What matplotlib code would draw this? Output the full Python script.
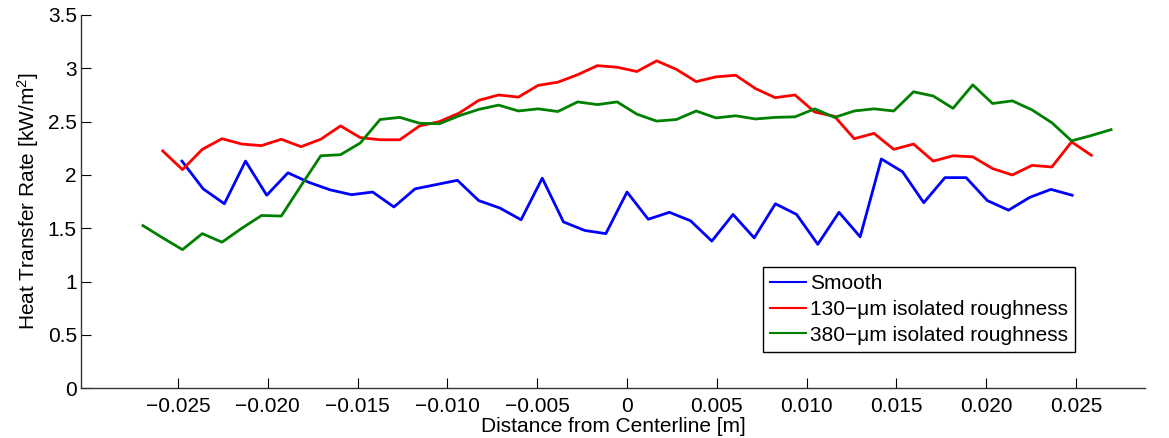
import numpy as np
import matplotlib
matplotlib.use('Agg')
import matplotlib.pyplot as plt

plt.rcParams['font.family'] = ['Liberation Sans', 'DejaVu Sans']
plt.rcParams['mathtext.default'] = 'regular'

# DATOS
x_smooth = [-0.02478, -0.02360, -0.02242, -0.02124, -0.02006, -0.01888, -0.01770,
            -0.01652, -0.01534, -0.01416, -0.01298, -0.01180, -0.01062, -0.00944,
            -0.00826, -0.00708, -0.00590, -0.00472, -0.00354, -0.00236, -0.00118,
            0.0, 0.00118, 0.00236, 0.00354, 0.00472, 0.00590, 0.00708, 0.00826,
            0.00944, 0.01062, 0.01180, 0.01298, 0.01416, 0.01534, 0.01652, 0.01770,
            0.01888, 0.02006, 0.02124, 0.02242, 0.02360, 0.02478]
smooth = [2.13, 1.87, 1.73, 2.13, 1.81, 2.02, 1.93, 1.86, 1.815, 1.84, 1.70,
          1.87, 1.91, 1.95, 1.76, 1.69, 1.58, 1.97, 1.56, 1.48, 1.45, 1.84,
          1.585, 1.65, 1.57, 1.38, 1.63, 1.41, 1.73, 1.63, 1.35, 1.65, 1.42,
          2.15, 2.03, 1.74, 1.975, 1.975, 1.76, 1.67, 1.79, 1.865, 1.81]

x_380 = [-0.02695, -0.02585, -0.02475, -0.02365, -0.02255, -0.02145, -0.02035,
         -0.01925, -0.01815, -0.01705, -0.01595, -0.01485, -0.01375, -0.01265,
         -0.01155, -0.01045, -0.00935, -0.00825, -0.00715, -0.00605, -0.00495,
         -0.00385, -0.00275, -0.00165, -0.00055, 0.00055, 0.00165, 0.00275,
         0.00385, 0.00495, 0.00605, 0.00715, 0.00825, 0.00935, 0.01045, 0.01155,
         0.01265, 0.01375, 0.01485, 0.01595, 0.01705, 0.01815, 0.01925, 0.02035,
         0.02145, 0.02255, 0.02365, 0.02475, 0.02585, 0.02695]
r380 = [1.525, 1.41, 1.30, 1.45, 1.37, 1.50, 1.62, 1.615, 1.90, 2.18,
        2.19, 2.30, 2.52, 2.54, 2.485, 2.48, 2.555, 2.615, 2.655, 2.60,
        2.62, 2.595, 2.685, 2.66, 2.685, 2.57, 2.505, 2.52, 2.60, 2.535,
        2.555, 2.525, 2.54, 2.545, 2.62, 2.54, 2.60, 2.62, 2.60, 2.78,
        2.74, 2.625, 2.845, 2.67, 2.695, 2.61, 2.49, 2.32, 2.37, 2.425]

x_130 = x_380[1:-1]
r130 = [2.225, 2.05, 2.24, 2.34, 2.29, 2.275, 2.335, 2.265, 2.335, 2.46,
        2.35, 2.33, 2.33, 2.46, 2.50, 2.58, 2.70, 2.75, 2.73, 2.84,
        2.87, 2.94, 3.025, 3.01, 2.97, 3.07, 2.99, 2.875, 2.92, 2.935,
        2.81, 2.725, 2.75, 2.59, 2.55, 2.34, 2.39, 2.24, 2.29, 2.13,
        2.18, 2.17, 2.06, 2.00, 2.09, 2.075, 2.31, 2.185]

xticks = [-0.025, -0.020, -0.015, -0.010, -0.005, 0, 0.005, 0.010, 0.015, 0.020, 0.025]
xticklabels = ['\u22120.025', '\u22120.020', '\u22120.015', '\u22120.010', '\u22120.005',
               '0', '0.005', '0.010', '0.015', '0.020', '0.025']
yticks = [0, 0.5, 1, 1.5, 2, 2.5, 3, 3.5]
yticklabels = ['0', '0.5', '1', '1.5', '2', '2.5', '3', '3.5']

# GRAFICA
fig = plt.figure(figsize=(11.69, 4.38), dpi=100)
ax = fig.add_axes([0.0693, 0.1135, 0.9102, 0.8523])

ax.plot(x_smooth, smooth, color='#0000ff', lw=2.0, label='Smooth')
ax.plot(x_130, r130, color='#ff0000', lw=2.0, label='130\u2212\u03bcm isolated roughness')
ax.plot(x_380, r380, color='#008000', lw=2.0, label='380\u2212\u03bcm isolated roughness')

ax.set_xlim(-0.0304, 0.02884)
ax.set_ylim(0, 3.5)
ax.set_xticks(xticks)
ax.set_xticklabels(xticklabels)
ax.set_yticks(yticks)
ax.set_yticklabels(yticklabels)
ax.tick_params(direction='in', length=7, width=0.8, labelsize=15, colors='black')
ax.tick_params(axis='x', pad=6)
ax.tick_params(axis='y', pad=3)

ax.spines['top'].set_visible(False)
ax.spines['right'].set_visible(False)
for s in ['left', 'bottom']:
    ax.spines[s].set_color('#333333')
    ax.spines[s].set_linewidth(1.0)

ax.set_xlabel('Distance from Centerline [m]', fontsize=15, labelpad=1)
ax.set_ylabel('Heat Transfer Rate [kW/m$^2$]', fontsize=15, labelpad=5)

leg = ax.legend(loc='upper left', bbox_to_anchor=(763 / 1169, 1 - 267 / 438),
                bbox_transform=fig.transFigure, fontsize=15, frameon=True,
                fancybox=False, edgecolor='black', framealpha=1,
                handlelength=1.7, handletextpad=0.2, labelspacing=0.32,
                borderpad=0.35, borderaxespad=0)
leg.get_frame().set_linewidth(1.0)
for l in leg.get_lines():
    l.set_linewidth(1.5)

fig.savefig('out.png', dpi=100)
